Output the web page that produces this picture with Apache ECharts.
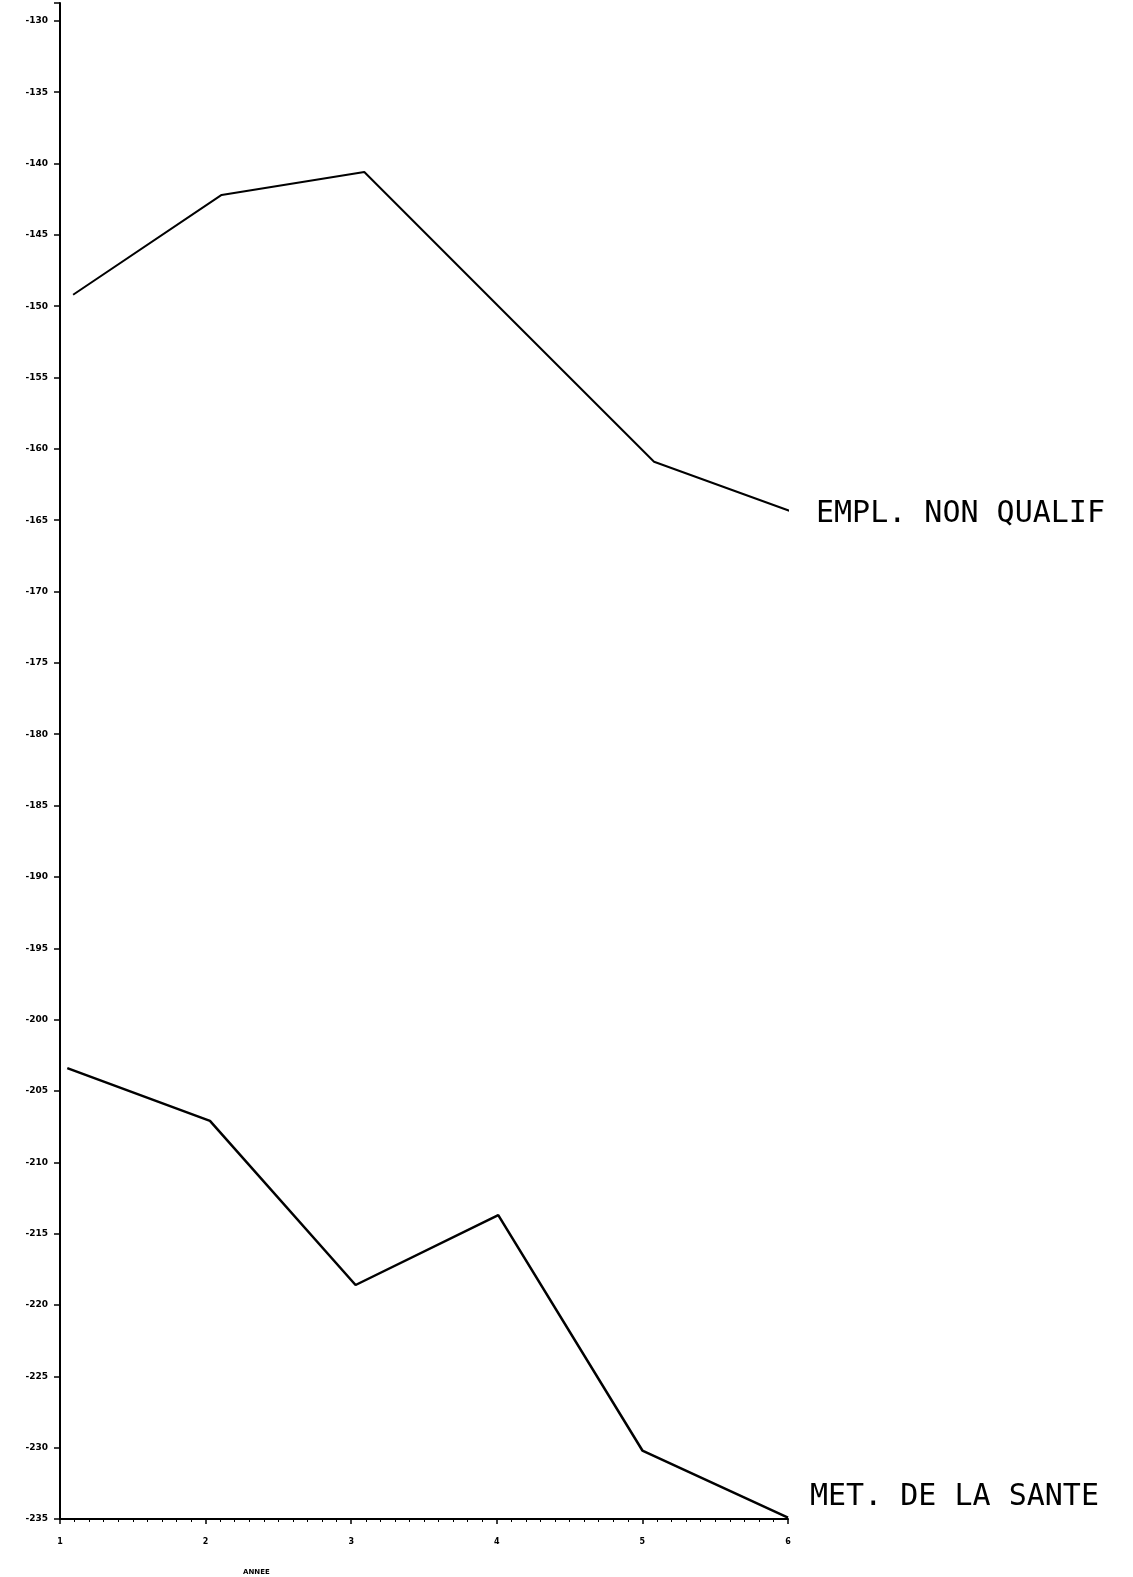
<!DOCTYPE html>
<html>
<head>
<meta charset="utf-8">
<script src="https://cdn.jsdelivr.net/npm/echarts@6/dist/echarts.min.js"></script>
<style>html,body{margin:0;padding:0;background:#fff;}#c{width:1133px;height:1577px;}</style>
</head>
<body>
<div id="c"></div>
<script>
// Data
const xTickLabels = ['1', '2', '3', '4', '5', '6'];
const yTickLabels = ['-130','-135','-140','-145','-150','-155','-160','-165','-170','-175','-180',
                     '-185','-190','-195','-200','-205','-210','-215','-220','-225','-230','-235'];
const seriesNames = ['EMPL. NON QUALIF', 'MET. DE LA SANTE'];
const emplX = [1.09, 2.11, 3.09, 4.08, 5.08, 6.08];
const emplY = [-149.2, -142.2, -140.6, -150.7, -160.9, -164.6];
const santeX = [1.05, 2.03, 3.03, 4.01, 5.0, 6.0];
const santeY = [-203.4, -207.1, -218.6, -213.7, -230.2, -234.9];
const xAxisTitle = 'ANNEE';

const zip = (xs, ys) => xs.map((x, i) => [x, ys[i]]);
const chart = echarts.init(document.getElementById('c'), null, {renderer: 'canvas'});
const labelFont = '"DejaVu Sans Mono", monospace';
chart.setOption({
  backgroundColor: '#ffffff',
  animation: false,
  title: {
    text: xAxisTitle, left: 238, top: 1564,
    textStyle: {fontSize: 7, fontWeight: 'bold', color: '#000', fontFamily: 'DejaVu Sans'}
  },
  grid: {left: 60, right: 345, top: 3, bottom: 58, containLabel: false},
  xAxis: {
    type: 'value', min: 1, max: 6, interval: 1,
    axisLine: {show: true, lineStyle: {color: '#000', width: 2}},
    axisTick: {show: true, length: 5, inside: false, lineStyle: {color: '#000', width: 1.5}},
    minorTick: {show: true, splitNumber: 10, length: 3, lineStyle: {color: '#000', width: 1}},
    splitLine: {show: false},
    axisLabel: {
      margin: 19, fontSize: 8, fontWeight: 'bold', color: '#000', fontFamily: 'DejaVu Sans',
      formatter: v => { const i = Math.round(v) - 1; return Math.abs(v - Math.round(v)) < 1e-6 ? (xTickLabels[i] || '') : ''; }
    }
  },
  yAxis: {
    type: 'value', min: -235, max: -128.75, interval: 5,
    axisLine: {show: true, lineStyle: {color: '#000', width: 2}},
    axisTick: {show: true, length: 6, lineStyle: {color: '#000', width: 1.5}},
    minorTick: {show: false},
    splitLine: {show: false},
    axisLabel: {
      margin: 12, fontSize: 9, fontWeight: 'bold', color: '#000', fontFamily: 'DejaVu Sans',
      formatter: v => {
        const k = (-130 - v) / 5;
        if (Math.abs(k - Math.round(k)) > 1e-6) return '';
        return yTickLabels[Math.round(k)] || '';
      }
    }
  },
  series: [
    {
      name: seriesNames[0], type: 'line', data: zip(emplX, emplY), clip: false,
      showSymbol: false, symbol: 'none',
      lineStyle: {color: '#000', width: 2},
      endLabel: {show: true, formatter: '{a}', distance: 27, color: '#000',
                 fontSize: 30, fontFamily: labelFont, offset: [0, 4]}
    },
    {
      name: seriesNames[1], type: 'line', data: zip(santeX, santeY), clip: false,
      showSymbol: false, symbol: 'none',
      lineStyle: {color: '#000', width: 2.5},
      endLabel: {show: true, formatter: '{a}', distance: 22, color: '#000',
                 fontSize: 30, fontFamily: labelFont, offset: [0, -20]}
    }
  ]
});
</script>
</body>
</html>
